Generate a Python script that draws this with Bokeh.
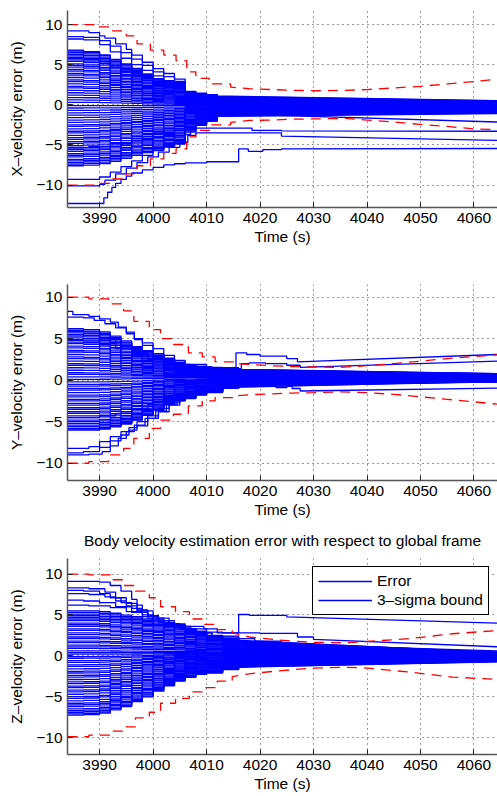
from bokeh.plotting import figure
from bokeh.layouts import column
from bokeh.models import Range1d, Legend, LegendItem, Title
from bokeh.embed import file_html
from bokeh.resources import INLINE

FONT = "Liberation Sans"
FS = "15.5px"
BLUE = "#0000ff"
RED = "#ff0000"

X_RANGE = (3984.0, 4064.4)
X_TICKS = [3990, 4000, 4010, 4020, 4030, 4040, 4050, 4060]
Y_TICKS = [-10, -5, 0, 5, 10]
Y_TICK_LABELS = {-10: "\u221210", -5: "\u22125", 0: "0", 5: "5", 10: "10"}
T_END = 4064.5

# ---------------- X panel ----------------
X_YRANGE = (-12.8, 11.75)
RX_T = [3984, 3990, 3992, 3995, 3997, 3999.5, 4002, 4004.3, 4006.3, 4008, 4010.5, 4014.5,
        4018, 4022, 4026, 4031, 4036, 4040, 4045, 4050, 4055, 4060, 4064.5]
RX_UP = [10.0, 9.7, 9.2, 8.6, 7.6, 6.8, 6.2, 5.5, 4.1, 3.3, 2.6, 2.2,
         2.0, 1.9, 1.8, 1.75, 1.8, 1.9, 2.1, 2.3, 2.6, 2.9, 3.2]
RX_DN = [-10.0, -9.8, -9.25, -8.6, -7.6, -6.75, -6.05, -5.5, -4.0, -3.2, -2.5, -2.2,
         -1.95, -1.9, -1.8, -1.75, -1.7, -1.9, -2.15, -2.45, -2.7, -3.0, -3.1]
T_X = [3984, 3987, 3990, 3992, 3994, 3996, 3998, 4000, 4002, 4004, 4006, 4008, 4010, 4012]
PX_UP = [1.0, 0.97, 0.9, 0.8, 0.7, 0.6, 0.48, 0.38, 0.33, 0.3, 0.1, 0.06, 0.03, 0.0]
PX_DN = [1.0, 0.985, 0.956, 0.91, 0.85, 0.79, 0.735, 0.68, 0.62, 0.56, 0.32, 0.18, 0.1, 0.0]
X_START = [6.8, 6.7, 6.5, 6.3, 6.1, 5.9, 5.8, 5.6, 5.4, 5.1, 4.9, 4.7, 4.4, 4.2, 3.9, 3.7,
           3.4, 3.1, 2.9, 2.6, 2.3, 2.1, 1.8, 1.5, 1.2, 0.9, 0.6, 0.3,
           -0.1, -0.4, -0.7, -1.0, -1.3, -1.6, -1.9, -2.2, -2.5, -2.7, -3.0, -3.3, -3.5,
           -3.8, -4.1, -4.3, -4.6, -4.8, -5.1, -5.4, -5.6, -5.8, -6.1, -6.3, -6.5, -6.8,
           -7.0, -7.2, -7.4, -7.6]
X_MID = [1.1, 1.05, 1.0, 0.96, 0.92, 0.88, 0.85, 0.8, 0.77, 0.72, 0.69, 0.65, 0.6, 0.57,
         0.52, 0.49, 0.44, 0.4, 0.36, 0.32, 0.27, 0.24, 0.19, 0.15, 0.1, 0.06, 0.01, -0.04,
         -0.09, -0.13, -0.17, -0.21, -0.25, -0.29, -0.33, -0.37, -0.41, -0.45, -0.49, -0.53,
         -0.57, -0.61, -0.65, -0.69, -0.73, -0.77, -0.81, -0.85, -0.9, -0.95, -1.0, -1.05,
         -1.1, -1.15, -1.2, -1.27, -1.35, -1.45]
X_END = [0.5, 0.48, 0.45, 0.43, 0.41, 0.39, 0.37, 0.34, 0.32, 0.3, 0.27, 0.25, 0.22, 0.2,
         0.17, 0.15, 0.12, 0.1, 0.07, 0.05, 0.02, 0.0, -0.03, -0.05, -0.08, -0.1, -0.13, -0.16,
         -0.19, -0.22, -0.25, -0.28, -0.31, -0.34, -0.37, -0.4, -0.43, -0.46, -0.49, -0.52,
         -0.55, -0.58, -0.61, -0.64, -0.67, -0.7, -0.73, -0.76, -0.79, -0.82, -0.85, -0.88,
         -0.91, -0.94, -0.97, -1.0, -1.04, -1.1]
X_OUT_T = [
    [3984, 3988, 3990, 3991, 3993, 3995, 3996, 3998, 4000, 4002, 4004, 4006, 4008, 4012, 4064.5],
    [3984, 3987, 3990, 3992, 3994, 3996, 3998, 4000, 4002, 4004, 4006, 4008, 4012, 4064.5],
    [3984, 3987, 3990, 3992, 3994, 3996, 3998, 4000, 4002, 4004, 4006, 4008, 4012, 4064.5],
    [3984, 3990.8, 3991.5, 3992.3, 3993, 3994, 3995, 3996, 3998, 4000, 4002, 4004, 4006, 4010,
     4016, 4017.8, 4020.5, 4024, 4064.5],
    [3984, 3990, 3992, 3994, 3996, 3998, 4000, 4002, 4004, 4006, 4007, 4018.5, 4024, 4064.5],
    [3984, 3990, 3991, 3993, 3995, 3997, 3999, 4001, 4003, 4005, 4006.5, 4008, 4024, 4064.5],
    [3984, 3988, 3992, 3996, 4000, 4004, 4006, 4008, 4012, 4064.5],
]
X_OUT_V = [
    [9.2, 9.0, 8.6, 8.3, 7.6, 6.9, 6.2, 5.3, 4.5, 3.9, 3.2, 1.2, 0.9, 0.7, 0.35],
    [8.5, 8.4, 8.0, 7.3, 6.5, 5.7, 4.9, 4.1, 3.5, 2.9, 1.1, 0.8, 0.6, 0.3],
    [8.2, 8.1, 7.5, 6.6, 5.8, 5.0, 4.3, 3.6, 3.0, 2.5, 1.3, 0.9, 0.65, 0.28],
    [-12.3, -11.6, -10.9, -10.3, -9.8, -9.3, -8.9, -8.5, -8.1, -7.8, -7.5, -7.35, -7.25, -7.1,
     -5.5, -5.8, -5.6, -5.5, -5.45],
    [-9.3, -9.0, -8.4, -7.7, -7.0, -6.3, -5.7, -5.2, -4.8, -3.7, -2.9, -3.2, -3.25, -3.3],
    [-10.1, -9.9, -9.4, -8.6, -7.9, -7.2, -6.5, -5.9, -5.3, -4.7, -3.8, -3.5, -3.9, -4.45],
    [-5.3, -5.2, -4.8, -4.2, -3.6, -3.0, -1.9, -1.4, -1.1, -2.15],
]

# ---------------- Y panel ----------------
Y_YRANGE = (-12.08, 11.53)
RY_T = [3984, 3988, 3991.7, 3994.5, 3996.4, 3999.3, 4001.4, 4003.8, 4006.6, 4009.2, 4011.6,
        4015, 4018, 4022, 4026, 4030, 4035, 4040, 4045, 4050, 4055, 4060, 4064.5]
RY_UP = [10.0, 9.8, 9.2, 8.35, 7.1, 6.1, 5.0, 4.3, 3.3, 2.8, 2.2, 2.0, 1.9, 1.75, 1.65,
         1.6, 1.55, 1.75, 2.0, 2.3, 2.6, 2.85, 3.05]
RY_DN = [-10.0, -9.8, -9.0, -8.2, -7.0, -5.8, -4.8, -4.1, -3.1, -2.5, -2.1, -1.9, -1.75,
         -1.65, -1.55, -1.5, -1.4, -1.5, -1.7, -2.0, -2.3, -2.6, -2.9]
T_Y = [3984, 3987, 3990, 3992, 3994, 3996, 3998, 4000, 4002, 4004, 4006, 4008, 4010, 4013, 4016]
PY_UP = [1.0, 0.98, 0.92, 0.82, 0.7, 0.56, 0.46, 0.36, 0.28, 0.18, 0.12, 0.08, 0.05, 0.02, 0.0]
PY_DN = [1.0, 1.0, 0.98, 0.93, 0.87, 0.78, 0.67, 0.56, 0.44, 0.35, 0.28, 0.22, 0.15, 0.07, 0.0]
Y_START = [6.2, 6.0, 5.9, 5.7, 5.5, 5.3, 5.1, 4.9, 4.6, 4.4, 4.1, 3.9, 3.6, 3.4, 3.1, 2.8,
           2.6, 2.3, 2.0, 1.8, 1.5, 1.2, 0.9, 0.7, 0.4, 0.1,
           -0.2, -0.5, -0.7, -1.0, -1.2, -1.5, -1.8, -2.0, -2.3, -2.5, -2.8, -3.0, -3.3,
           -3.5, -3.8, -4.0, -4.3, -4.5, -4.8, -5.0, -5.2, -5.4, -5.6, -5.8, -5.9, -6.0]
Y_MID = [1.3, 1.26, 1.22, 1.18, 1.14, 1.1, 1.06, 1.02, 0.98, 0.94, 0.9, 0.86, 0.82, 0.78,
         0.74, 0.7, 0.66, 0.62, 0.58, 0.54, 0.5, 0.46, 0.42, 0.38, 0.34, 0.3,
         0.26, 0.22, 0.18, 0.14, 0.1, 0.06, 0.02, -0.02, -0.06, -0.1, -0.14, -0.18, -0.22,
         -0.26, -0.3, -0.33, -0.36, -0.39, -0.42, -0.45, -0.48, -0.51, -0.54, -0.56, -0.58, -0.6]
Y_END = [0.8, 0.78, 0.76, 0.74, 0.72, 0.7, 0.68, 0.66, 0.64, 0.62, 0.6, 0.58, 0.56, 0.54,
         0.52, 0.5, 0.48, 0.46, 0.44, 0.42, 0.4, 0.38, 0.36, 0.34, 0.32, 0.3,
         0.28, 0.26, 0.24, 0.22, 0.2, 0.18, 0.16, 0.14, 0.12, 0.1, 0.08, 0.06, 0.04, 0.02,
         0.0, -0.02, -0.04, -0.06, -0.08, -0.1, -0.12, -0.14, -0.16, -0.17, -0.19, -0.2]
Y_OUT_T = [
    [3984, 3985, 3988, 3990, 3992, 3993.5, 3995, 3996.5, 3998, 4000, 4002, 4004, 4007, 4011,
     4016, 4064.5],
    [3984, 3987, 3989, 3991, 3993, 3995, 3996.5, 3998, 4000, 4002, 4004, 4006, 4010, 4016, 4064.5],
    [3984, 3988, 3990, 3992, 3994, 3995.5, 3997, 3999, 4001, 4003, 4005, 4008, 4012, 4064.5],
    [3984, 3987, 3990, 3992, 3994, 3995.5, 3997, 3999, 4001, 4003, 4005, 4008, 4013, 4064.5],
    [3984, 3988, 3990.5, 3992, 3993.5, 3995, 3996.5, 3998.5, 4000.5, 4002.5, 4004.5, 4008,
     4013, 4064.5],
    [3984, 3987, 3990, 3993, 3996, 3999, 4002, 4005, 4008, 4011, 4015.5, 4017.5, 4020, 4025,
     4027, 4064.5],
    [3984, 3987, 3990, 3993, 3996, 3999, 4002, 4005, 4008, 4012, 4016.5, 4018, 4021, 4025,
     4027.5, 4064.5],
    [3984, 3987, 3990, 3993, 3996, 3999, 4002, 4005, 4008, 4012, 4016, 4023, 4025, 4026,
     4027.5, 4064.5],
]
Y_OUT_V = [
    [8.3, 7.9, 7.7, 7.4, 7.0, 6.4, 5.8, 4.9, 4.2, 3.2, 2.5, 1.9, 1.6, 1.3, 1.2, 0.75],
    [7.6, 7.5, 7.2, 6.8, 6.3, 5.6, 5.0, 4.5, 3.8, 3.0, 2.4, 1.9, 1.5, 1.3, 0.7],
    [-8.2, -8.0, -7.4, -6.8, -6.2, -5.7, -5.0, -4.3, -3.4, -2.7, -2.0, -1.4, -0.9, -0.1],
    [-8.75, -8.6, -8.1, -7.3, -6.6, -6.0, -5.5, -4.6, -3.8, -3.0, -2.2, -1.5, -0.8, -0.2],
    [-9.0, -8.9, -8.6, -7.9, -7.0, -6.2, -5.4, -4.6, -3.7, -2.9, -2.1, -1.3, -0.6, -0.05],
    [5.5, 5.4, 5.0, 4.2, 3.3, 2.6, 2.1, 1.8, 1.6, 1.5, 3.3, 3.1, 2.9, 2.6, 2.2, 3.1],
    [4.8, 4.7, 4.4, 3.8, 3.1, 2.5, 2.0, 1.7, 1.5, 1.4, 2.0, 2.1, 2.0, 1.8, 1.55, 2.3],
    [-4.5, -4.5, -4.3, -4.0, -3.5, -2.9, -2.2, -1.6, -1.1, -0.8, -0.6, -0.9, -0.75, -1.0,
     -1.3, -0.95],
]

# ---------------- Z panel ----------------
Z_YRANGE = (-12.07, 11.9)
RZ_T = [3984, 3988, 3992, 3994.5, 3996.7, 3999.3, 4001.4, 4004.2, 4006.8, 4009.4, 4012,
        4014.8, 4018, 4022.5, 4026, 4030, 4036, 4040, 4048, 4056, 4064.5]
RZ_UP = [10.0, 9.9, 9.3, 8.6, 7.9, 7.1, 6.0, 5.4, 4.5, 3.85, 3.2, 2.8, 2.3, 2.0, 1.8,
         1.65, 1.6, 1.75, 2.1, 2.7, 3.1]
RZ_DN = [-9.9, -9.7, -9.2, -8.7, -7.6, -6.9, -5.8, -5.2, -4.4, -3.9, -3.1, -2.55, -2.2,
         -1.9, -1.7, -1.5, -1.4, -1.5, -2.0, -2.6, -2.9]
T_Z = [3984, 3987, 3990, 3992, 3994, 3996, 3998, 4000, 4002, 4004, 4006, 4008, 4010, 4013, 4016]
PZ_UP = [1.0, 1.0, 0.97, 0.92, 0.86, 0.81, 0.73, 0.68, 0.59, 0.51, 0.41, 0.3, 0.19, 0.08, 0.0]
PZ_DN = [1.0, 0.99, 0.96, 0.89, 0.82, 0.72, 0.62, 0.5, 0.39, 0.29, 0.21, 0.15, 0.12, 0.05, 0.0]
Z_START = [5.5, 5.3, 5.1, 4.9, 4.7, 4.5, 4.3, 4.0, 3.8, 3.6, 3.3, 3.1, 2.8, 2.6, 2.3, 2.1,
           1.8, 1.6, 1.3, 1.1, 0.9, 0.6, 0.4, 0.2,
           -0.1, -0.3, -0.6, -0.8, -1.1, -1.3, -1.6, -1.9, -2.1, -2.4, -2.6, -2.9, -3.2,
           -3.4, -3.7, -3.9, -4.2, -4.4, -4.7, -5.0, -5.2, -5.5, -5.8, -6.0, -6.2, -6.5,
           -6.7, -6.9, -7.1, -7.25]
Z_MID = [1.8, 1.74, 1.68, 1.62, 1.56, 1.5, 1.44, 1.37, 1.31, 1.25, 1.18, 1.12, 1.05, 0.99,
         0.92, 0.86, 0.79, 0.73, 0.66, 0.6, 0.53, 0.46, 0.39, 0.32,
         0.25, 0.19, 0.13, 0.07, 0.01, -0.05, -0.11, -0.17, -0.23, -0.29, -0.35, -0.41,
         -0.47, -0.53, -0.59, -0.65, -0.71, -0.77, -0.83, -0.89, -0.95, -1.01, -1.07, -1.13,
         -1.19, -1.25, -1.29, -1.33, -1.37, -1.4]
Z_END = [0.45, 0.43, 0.41, 0.39, 0.37, 0.35, 0.33, 0.31, 0.29, 0.27, 0.25, 0.23, 0.21, 0.19,
         0.17, 0.15, 0.13, 0.11, 0.09, 0.07, 0.05, 0.03, 0.01, -0.01,
         -0.03, -0.05, -0.07, -0.09, -0.11, -0.13, -0.15, -0.18, -0.2, -0.23, -0.25, -0.28,
         -0.3, -0.33, -0.35, -0.38, -0.4, -0.43, -0.45, -0.48, -0.5, -0.53, -0.55, -0.58,
         -0.6, -0.63, -0.66, -0.69, -0.72, -0.75]
Z_OUT_T = [
    [3984, 3990, 3992, 3994, 3996, 3997, 3998, 4000, 4003, 4006, 4009.5, 4012, 4016, 4018,
     4025, 4064.5],
    [3984, 3988, 3991, 3993, 3995, 3997, 3999, 4001, 4003, 4006, 4010, 4013, 4020, 4027,
     4030, 4064.5],
    [3984, 3987, 3990, 3992, 3994, 3996, 3998, 4000, 4002, 4005, 4008, 4011, 4016, 4019,
     4024, 4064.5],
    [3984, 3988, 3991, 3993, 3995, 3997, 3999, 4001, 4004, 4007, 4010, 4013, 4016, 4064.5],
    [3984, 3987, 3990, 3993, 3996, 3999, 4002, 4005, 4008, 4011, 4016, 4064.5],
    [3984, 3988, 3992, 3995, 3998, 4001, 4004, 4007, 4010, 4013, 4016, 4064.5],
]
Z_OUT_V = [
    [9.1, 9.0, 8.6, 7.9, 6.9, 6.2, 5.5, 4.6, 3.9, 3.6, 3.3, 2.8, 5.05, 4.95, 4.75, 4.0],
    [8.3, 8.2, 7.8, 7.1, 6.4, 5.6, 4.9, 4.3, 3.8, 3.3, 2.9, 2.8, 2.75, 2.3, 2.0, 1.1],
    [8.0, 7.9, 7.6, 7.1, 6.5, 5.8, 5.0, 4.4, 3.9, 3.3, 2.8, 2.4, 2.1, 1.8, 1.4, 0.6],
    [7.6, 7.5, 7.2, 6.7, 6.1, 5.5, 4.9, 4.3, 3.6, 3.0, 2.4, 2.0, 1.7, 0.4],
    [6.8, 6.7, 6.5, 6.0, 5.3, 4.6, 3.9, 3.3, 2.8, 2.3, 1.9, 0.35],
    [6.2, 6.1, 5.9, 5.4, 4.8, 4.1, 3.5, 2.9, 2.4, 2.0, 1.6, 0.25],
]

TITLE = "Body velocity estimation error with respect to global frame"
LEGEND_LABELS = ["Error", "3\u2013sigma bound"]


def stepped(ts, vs, t_lin):
    """Sample-and-hold path through knots; segments ending after t_lin and the
    final segment are drawn straight."""
    xs, ys = [ts[0]], [vs[0]]
    n = len(ts)
    for i in range(1, n):
        if ts[i] <= t_lin and i < n - 1:
            xs += [ts[i], ts[i]]
            ys += [vs[i - 1], vs[i]]
        else:
            xs.append(ts[i])
            ys.append(vs[i])
    return xs, ys


def dense_paths(knots, p_up, p_dn, starts, mids, ends):
    xs_all, ys_all = [], []
    for s, m, e in zip(starts, mids, ends):
        prof = p_up if s > 0 else p_dn
        vals = [m + (s - m) * f for f in prof] + [e]
        xs, ys = stepped(list(knots) + [T_END], vals, 1e9)
        xs_all.append(xs)
        ys_all.append(ys)
    return xs_all, ys_all


def make_fig(height, top, bottom, yr, ylabel):
    p = figure(width=497, height=height, x_range=Range1d(*X_RANGE), y_range=Range1d(*yr),
               output_backend="svg", toolbar_location=None,
               min_border_left=67, min_border_right=0, min_border_top=top,
               min_border_bottom=bottom)
    p.outline_line_color = None
    p.background_fill_color = "white"
    p.border_fill_color = "white"
    for ax in (p.xaxis[0], p.yaxis[0]):
        ax.axis_line_color = "#555555"
        ax.axis_line_width = 1.5
        ax.major_tick_in = 5
        ax.major_tick_out = 0
        ax.minor_tick_in = 0
        ax.minor_tick_out = 0
        ax.major_tick_line_color = "#222222"
        ax.major_label_text_font = FONT
        ax.major_label_text_font_size = FS
        ax.major_label_text_color = "black"
        ax.axis_label_text_font = FONT
        ax.axis_label_text_font_size = FS
        ax.axis_label_text_font_style = "normal"
        ax.axis_label_text_color = "black"
    p.xaxis.ticker = X_TICKS
    p.yaxis.ticker = Y_TICKS
    p.yaxis.major_label_overrides = Y_TICK_LABELS
    p.xaxis.axis_label = "Time (s)"
    p.yaxis.axis_label = ylabel
    p.xaxis.major_label_standoff = 5
    p.xaxis.axis_label_standoff = 2
    p.yaxis.major_label_standoff = 5
    p.yaxis.axis_label_standoff = 8
    for g in (p.xgrid[0], p.ygrid[0]):
        g.grid_line_color = "black"
        g.grid_line_alpha = 0.8
        g.grid_line_width = 1
        g.grid_line_dash = "1 4"
    return p


def panel(p, knots, p_up, p_dn, starts, mids, ends, out_t, out_v, rt, rup, rdn):
    dx, dy = dense_paths(knots, p_up, p_dn, starts, mids, ends)
    p.multi_line(dx, dy, line_color=BLUE, line_width=1.3)
    out_renderers = []
    for ts, vs in zip(out_t, out_v):
        xs, ys = stepped(ts, vs, 1e9)
        out_renderers.append(p.line(xs, ys, line_color=BLUE, line_width=1.3))
    for vals in (rup, rdn):
        xs, ys = stepped(rt, vals, 4016)
        p.line(xs, ys, line_color=RED, line_width=1.3, line_dash="10 7")
    return out_renderers


p1 = make_fig(274, 10, 67, X_YRANGE, "X\u2013velocity error (m)")
panel(p1, T_X, PX_UP, PX_DN, X_START, X_MID, X_END, X_OUT_T, X_OUT_V, RX_T, RX_UP, RX_DN)

p2 = make_fig(247, 10, 41, Y_YRANGE, "Y\u2013velocity error (m)")
panel(p2, T_Y, PY_UP, PY_DN, Y_START, Y_MID, Y_END, Y_OUT_T, Y_OUT_V, RY_T, RY_UP, RY_DN)

p3 = make_fig(275, 37, 42, Z_YRANGE, "Z\u2013velocity error (m)")
outs = panel(p3, T_Z, PZ_UP, PZ_DN, Z_START, Z_MID, Z_END, Z_OUT_T, Z_OUT_V,
             RZ_T, RZ_UP, RZ_DN)
# thin empty spacer closest to the frame, then the real title above it
p3.add_layout(Title(text=" ", text_font_size="3px", text_font=FONT, standoff=0), "above")
p3.add_layout(Title(text=TITLE, align="center", text_font=FONT, text_font_size=FS,
                    text_font_style="normal", text_color="black"), "above")

legend = Legend(items=[LegendItem(label=LEGEND_LABELS[0], renderers=[outs[0]]),
                       LegendItem(label=LEGEND_LABELS[1], renderers=[outs[1]])],
                location="top_right")
legend.margin = 8
legend.padding = 5
legend.spacing = 1
legend.glyph_width = 54
legend.glyph_height = 18
legend.label_standoff = 5
legend.label_text_font = FONT
legend.label_text_font_size = FS
legend.label_text_color = "black"
legend.border_line_color = "black"
legend.border_line_width = 1
legend.border_line_alpha = 1
legend.background_fill_color = "white"
legend.background_fill_alpha = 1
p3.add_layout(legend)

layout = column(p1, p2, p3, spacing=0)
open("out.html", "w").write(file_html(layout, INLINE))
